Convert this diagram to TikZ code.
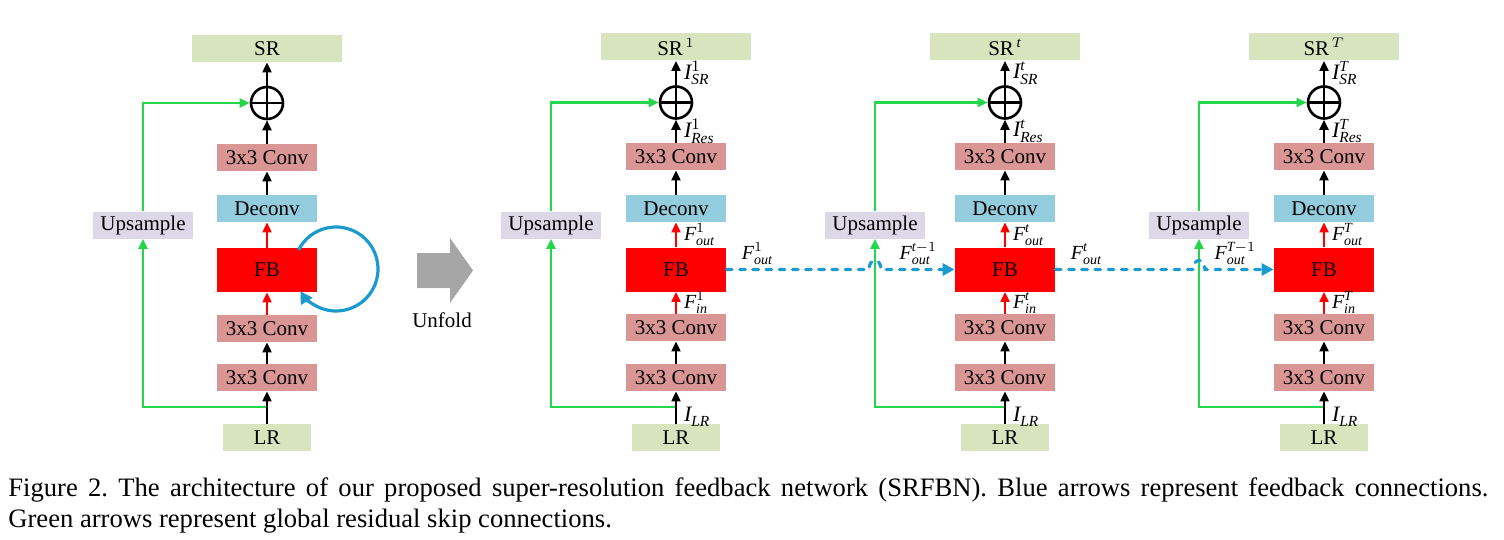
\documentclass[tikz,border=0pt]{standalone}
\usepackage{amsmath}
\usepackage{fontspec}
\setmainfont{Liberation Serif}
\usetikzlibrary{arrows.meta}
\definecolor{imageGreen}{HTML}{D7E4BD}
\definecolor{convRed}{HTML}{D99694}
\definecolor{deconvBlue}{HTML}{93CDDD}
\definecolor{upsampleLilac}{HTML}{DCD8E8}
\definecolor{skipGreen}{HTML}{22D84A}
\definecolor{feedbackBlue}{HTML}{1B9AD0}
\definecolor{unfoldGray}{HTML}{A6A6A6}
\newcommand{\feat}[3]{$\textit{#1}^{#2}_{\textit{#3}}$}
\frenchspacing
\begin{document}
\begin{tikzpicture}[
  x=0.5pt, y=-0.5pt,
  block/.style={
    inner sep=0pt,
    minimum width=50pt,
    minimum height=13.5pt,
    font=\fontsize{10.5}{12}\selectfont
  },
  conv/.style={block, fill=convRed},
  deconv/.style={block, fill=deconvBlue},
  fb/.style={block, fill=red, minimum height=22pt},
  upsample/.style={block, fill=upsampleLilac},
  image/.style={block, fill=imageGreen},
  sum/.style={circle, draw, line width=1.3pt, minimum size=16pt, inner sep=0pt},
  data/.style={line width=1pt, -{Triangle[length=5pt,width=4.5pt]}},
  feature/.style={data, red},
  skip/.style={skipGreen, line width=1.1pt, -{Triangle[length=5pt,width=4.5pt]}},
  feedback/.style={
    feedbackBlue,
    line width=1.6pt,
    line cap=round,
    dash pattern=on 2.8pt off 3.8pt,
    -{Triangle[length=6pt,width=6pt]}
  },
  feedbackLoop/.style={feedbackBlue, line width=1.6pt, -{Triangle[length=6pt,width=6.5pt]}},
  lbl/.style={text=black, inner xsep=3.5pt, inner ysep=1pt, font=\fontsize{11}{12}\selectfont},
  flbl/.style={lbl, font=\fontsize{10}{12}\selectfont},
  caption/.style={
    inner sep=0pt,
    text width=740pt,
    align=justify,
    font=\fontsize{13.3}{15.5}\selectfont
  }
]
\useasboundingbox (0,0) rectangle (1504,540);

% folded network
\node[image, minimum width=75pt] (sr0) at (267,48.5) {SR};
\node[sum] (sum0) at (267,103) {};
\node[conv] (convOut0) at (267,157.5) {3x3 Conv};
\node[deconv] (deconv0) at (267,208.5) {Deconv};
\node[fb] (fb0) at (267,270) {FB};
\node[conv] (convIn0) at (267,328.5) {3x3 Conv};
\node[conv] (convFirst0) at (267,377.5) {3x3 Conv};
\node[image, minimum width=44pt] (lr0) at (267,437.5) {LR};
\node[upsample] (up0) at (143,225) {Upsample};
\coordinate (joint0) at (267,407);
\coordinate (loopCenter) at (336,269);

\draw[skip] (joint0) -| (up0.south);
\draw[skip] (up0.north) |- (sum0.west);
\draw[data] (lr0.north) -- (convFirst0.south);
\draw[data] (convFirst0) -- (convIn0);
\draw[feature] (convIn0) -- (fb0);
\draw[feature] (fb0) -- (deconv0);
\draw[data] (deconv0) -- (convOut0);
\draw[data] (convOut0) -- (sum0);
\draw[data] (sum0) -- (sr0);
\draw[line width=1.3pt] (sum0.north) -- (sum0.south) (sum0.west) -- (sum0.east);
\draw[feedbackLoop] (loopCenter) ++(153:21pt) arc[start angle=153, end angle=-148, radius=21pt];

% unfold arrow
\fill[unfoldGray] (417,253) -- (450,253) -- (450,238) -- (473,270.5)
  -- (450,303) -- (450,288) -- (417,288) -- cycle;
\node[font=\fontsize{10.5}{12}\selectfont] (unfold) at (442,320) {Unfold};

% unfolded network
\foreach \c/\mx/\ux/\s/\r in {1/676/551/1/1, 2/1005/875/\textit{t}/\textit{t}, 3/1324/1199/\textit{T}/T} {
  \node[image, minimum width=75pt] (sr\c) at (\mx,47) {SR$^{\,\r}$};
  \node[sum] (sum\c) at (\mx,102.5) {};
  \node[conv] (convOut\c) at (\mx,156.5) {3x3 Conv};
  \node[deconv] (deconv\c) at (\mx,208.5) {Deconv};
  \node[fb] (fb\c) at (\mx,269.5) {FB};
  \node[conv] (convIn\c) at (\mx,327.5) {3x3 Conv};
  \node[conv] (convFirst\c) at (\mx,377.5) {3x3 Conv};
  \node[image, minimum width=44pt] (lr\c) at (\mx,437.5) {LR};
  \node[upsample] (up\c) at (\ux,225) {Upsample};
  \coordinate (joint\c) at (\mx,407);
  \coordinate (hopIn\c) at (\ux-6,269.5);
  \coordinate (hopOut\c) at (\ux+6,269.5);

  \draw[skip] (joint\c) -| (up\c.south);
  \draw[skip] (up\c.north) |- (sum\c.west);
  \draw[data] (lr\c.north) -- (joint\c) node[lbl, right, pos=0.4] {\feat{I}{}{LR}} -- (convFirst\c.south);
  \draw[data] (convFirst\c) -- (convIn\c);
  \draw[feature] (convIn\c) -- node[flbl, right] {\feat{F}{\s}{in}} (fb\c);
  \draw[feature] (fb\c) -- node[flbl, right] {\feat{F}{\s}{out}} (deconv\c);
  \draw[data] (deconv\c) -- (convOut\c);
  \draw[data] (convOut\c) -- node[lbl, right] {\feat{I}{\s}{Res}} (sum\c);
  \draw[data] (sum\c) -- node[lbl, right] {\feat{I}{\s}{SR}} (sr\c);
  \draw[line width=1.3pt] (sum\c.north) -- (sum\c.south) (sum\c.west) -- (sum\c.east);
}

% feedback connections between steps
\foreach \p/\c/\f/\g in {1/2/1/\textit{t}-1, 2/3/\textit{t}/\textit{T}-1} {
  \draw[feedback] (fb\p.east) -- (hopIn\c) .. controls +(0,-12) and +(0,-12) .. (hopOut\c) -- (fb\c.west);
  \node[flbl, anchor=south west] at ([xshift=4pt,yshift=1pt]fb\p.east) {\feat{F}{\f}{out}};
  \node[flbl, anchor=south east] at ([xshift=-5pt,yshift=1pt]fb\c.west) {\feat{F}{\g}{out}};
}

\node[caption, anchor=north west] (caption) at (8,477) {Figure 2. The architecture of our proposed super-resolution feedback network (SRFBN). Blue arrows represent feedback connections.\linebreak Green arrows represent global residual skip connections.};
\end{tikzpicture}
\end{document}
